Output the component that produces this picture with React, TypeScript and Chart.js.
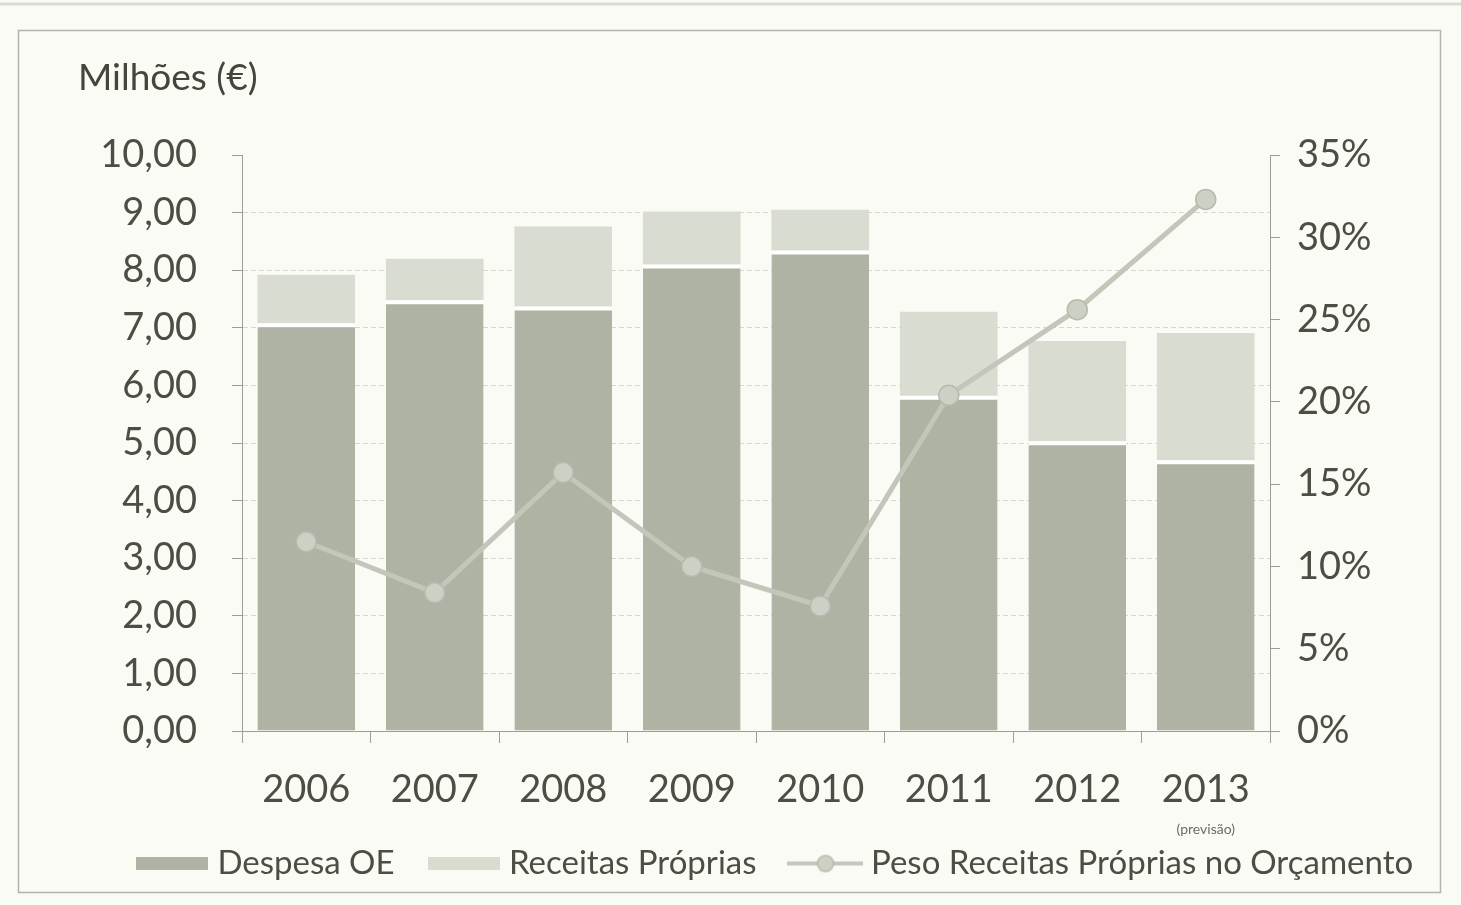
import React, { useEffect, useRef } from "react";
import { Chart, registerables } from "chart.js";

Chart.register(...registerables);

// ---- data ----
const categories = ["2006", "2007", "2008", "2009", "2010", "2011", "2012", "2013"];
const despesaOE = [7.08, 7.48, 7.37, 8.1, 8.34, 5.82, 5.03, 4.7];
const receitasProprias = [0.84, 0.72, 1.39, 0.92, 0.71, 1.46, 1.74, 2.21];
const pesoReceitas = [11.5, 8.4, 15.7, 10.0, 7.6, 20.4, 25.6, 32.3];
const seriesNames = ["Despesa OE", "Receitas Próprias", "Peso Receitas Próprias no Orçamento"];
const yTitle = "Milhões (€)";
const forecastNote = "(previsão)";

// ---- style ----
const FONT = "Lato, 'Open Sans', sans-serif";
const TEXT = "#4b4f43";
const BG = "#fbfbf6";
const C_DESPESA = "#aeb3a4";
const C_RECEITAS = "#d9dcd1";
const C_LINE = "#c3c7ba";
const C_POINT = "#cdd0c5";
const AXIS = "#9c9e96";

function rectImg(color: string, w = 72, h = 13) {
  const c = document.createElement("canvas");
  c.width = w;
  c.height = h;
  const x = c.getContext("2d")!;
  x.fillStyle = color;
  x.fillRect(0, 0, w, h);
  return c;
}

function lineImg() {
  const w = 76, h = 22;
  const c = document.createElement("canvas");
  c.width = w;
  c.height = h;
  const x = c.getContext("2d")!;
  x.strokeStyle = C_LINE;
  x.lineWidth = 4;
  x.beginPath();
  x.moveTo(0, h / 2);
  x.lineTo(w, h / 2);
  x.stroke();
  x.fillStyle = C_POINT;
  x.strokeStyle = "#b7bbae";
  x.lineWidth = 1.5;
  x.beginPath();
  x.arc(w / 2, h / 2, 8, 0, Math.PI * 2);
  x.fill();
  x.stroke();
  return c;
}

const decorPlugin = {
  id: "decor",
  beforeDraw(chart: any) {
    const { ctx } = chart;
    ctx.save();
    ctx.fillStyle = BG;
    ctx.fillRect(0, 0, chart.width, chart.height);
    // scan band at top
    ctx.strokeStyle = "#dcdcd3";
    ctx.lineWidth = 3;
    ctx.beginPath();
    ctx.moveTo(0, 4);
    ctx.lineTo(chart.width, 4);
    ctx.stroke();
    // frame
    ctx.strokeStyle = "#b3b3aa";
    ctx.lineWidth = 1.5;
    ctx.strokeRect(18.5, 30.5, 1422, 862);
    ctx.restore();
  },
  afterDraw(chart: any) {
    const { ctx } = chart;
    ctx.save();
    ctx.fillStyle = "#43473b";
    ctx.font = `37px ${FONT}`;
    ctx.textAlign = "left";
    ctx.textBaseline = "middle";
    ctx.fillText(yTitle, 78, 78);
    const xs = chart.scales.x;
    ctx.font = `14px ${FONT}`;
    ctx.textAlign = "center";
    ctx.fillStyle = "#6a6d62";
    ctx.fillText(forecastNote, xs.getPixelForValue(7), 829);
    ctx.restore();
  },
};

export default function App() {
  const ref = useRef<HTMLCanvasElement | null>(null);

  useEffect(() => {
    if (!ref.current) return;
    const imgs = [rectImg(C_DESPESA), rectImg(C_RECEITAS), lineImg()];
    const chart = new Chart(ref.current, {
      type: "bar",
      data: {
        labels: categories,
        datasets: [
          {
            type: "bar",
            label: seriesNames[0],
            data: despesaOE,
            backgroundColor: C_DESPESA,
            borderColor: "#ffffff",
            borderWidth: { top: 4, left: 0, right: 0, bottom: 0 },
            borderSkipped: false,
            barPercentage: 0.76,
            categoryPercentage: 1,
            yAxisID: "y",
            order: 1,
          } as any,
          {
            type: "bar",
            label: seriesNames[1],
            data: receitasProprias,
            backgroundColor: C_RECEITAS,
            borderWidth: 0,
            barPercentage: 0.76,
            categoryPercentage: 1,
            yAxisID: "y",
            order: 1,
          } as any,
          {
            type: "line",
            label: seriesNames[2],
            data: pesoReceitas,
            borderColor: C_LINE,
            borderWidth: 5,
            backgroundColor: C_POINT,
            pointBackgroundColor: C_POINT,
            pointBorderColor: "#b7bbae",
            pointBorderWidth: 1.5,
            pointRadius: 10,
            tension: 0,
            yAxisID: "y1",
            order: 0,
          } as any,
        ],
      },
      options: {
        responsive: false,
        animation: false,
        layout: { padding: { left: 98, right: 3, top: 155, bottom: 15 } },
        plugins: {
          tooltip: { enabled: false },
          legend: {
            position: "bottom",
            labels: {
              usePointStyle: true,
              pointStyleWidth: 58,
              padding: 40,
              color: TEXT,
              font: { family: FONT, size: 33 },
              generateLabels: (ch: any) => {
                const items = (Chart.defaults.plugins.legend.labels as any).generateLabels(ch);
                items.sort((a: any, b: any) => a.datasetIndex - b.datasetIndex);
                return items.map((it: any) => ({ ...it, pointStyle: imgs[it.datasetIndex], fontColor: TEXT }));
              },
            },
          },
        },
        scales: {
          x: {
            stacked: true,
            offset: true,
            grid: {
              drawOnChartArea: false,
              offset: true,
              tickLength: 12,
              tickColor: AXIS,
            },
            border: { display: true, color: AXIS, width: 1 },
            ticks: { color: TEXT, font: { family: FONT, size: 38 }, padding: 24 },
            afterFit: (s: any) => {
              s.height = 76;
            },
          },
          y: {
            stacked: true,
            position: "left",
            min: 0,
            max: 10,
            ticks: {
              stepSize: 1,
              color: TEXT,
              font: { family: FONT, size: 38 },
              padding: 35,
              callback: (v: any) => Number(v).toFixed(2).replace(".", ","),
            },
            grid: {
              color: (c: any) => (c.tick && (c.tick.value === 0 || c.tick.value === 10) ? "rgba(0,0,0,0)" : "#d6d7cf"),
              tickColor: AXIS,
              tickLength: 10,
              lineWidth: 1,
            },
            border: { display: true, color: AXIS, width: 1, dash: [5, 3] },
            afterFit: (s: any) => {
              s.width = 144;
            },
          },
          y1: {
            position: "right",
            min: 0,
            max: 35,
            ticks: {
              stepSize: 5,
              color: TEXT,
              font: { family: FONT, size: 38 },
              padding: 17,
              callback: (v: any) => `${v}%`,
            },
            grid: { drawOnChartArea: false, tickColor: AXIS, tickLength: 10 },
            border: { display: true, color: AXIS, width: 1 },
            afterFit: (s: any) => {
              s.width = 188;
            },
          },
        },
      },
      plugins: [decorPlugin],
    });
    return () => chart.destroy();
  }, []);

  return (
    <div style={{ position: "absolute", left: 0, top: 0, width: 1461, height: 905, background: BG }}>
      <canvas ref={ref} width={1461} height={905} style={{ display: "block" }} />
    </div>
  );
}
